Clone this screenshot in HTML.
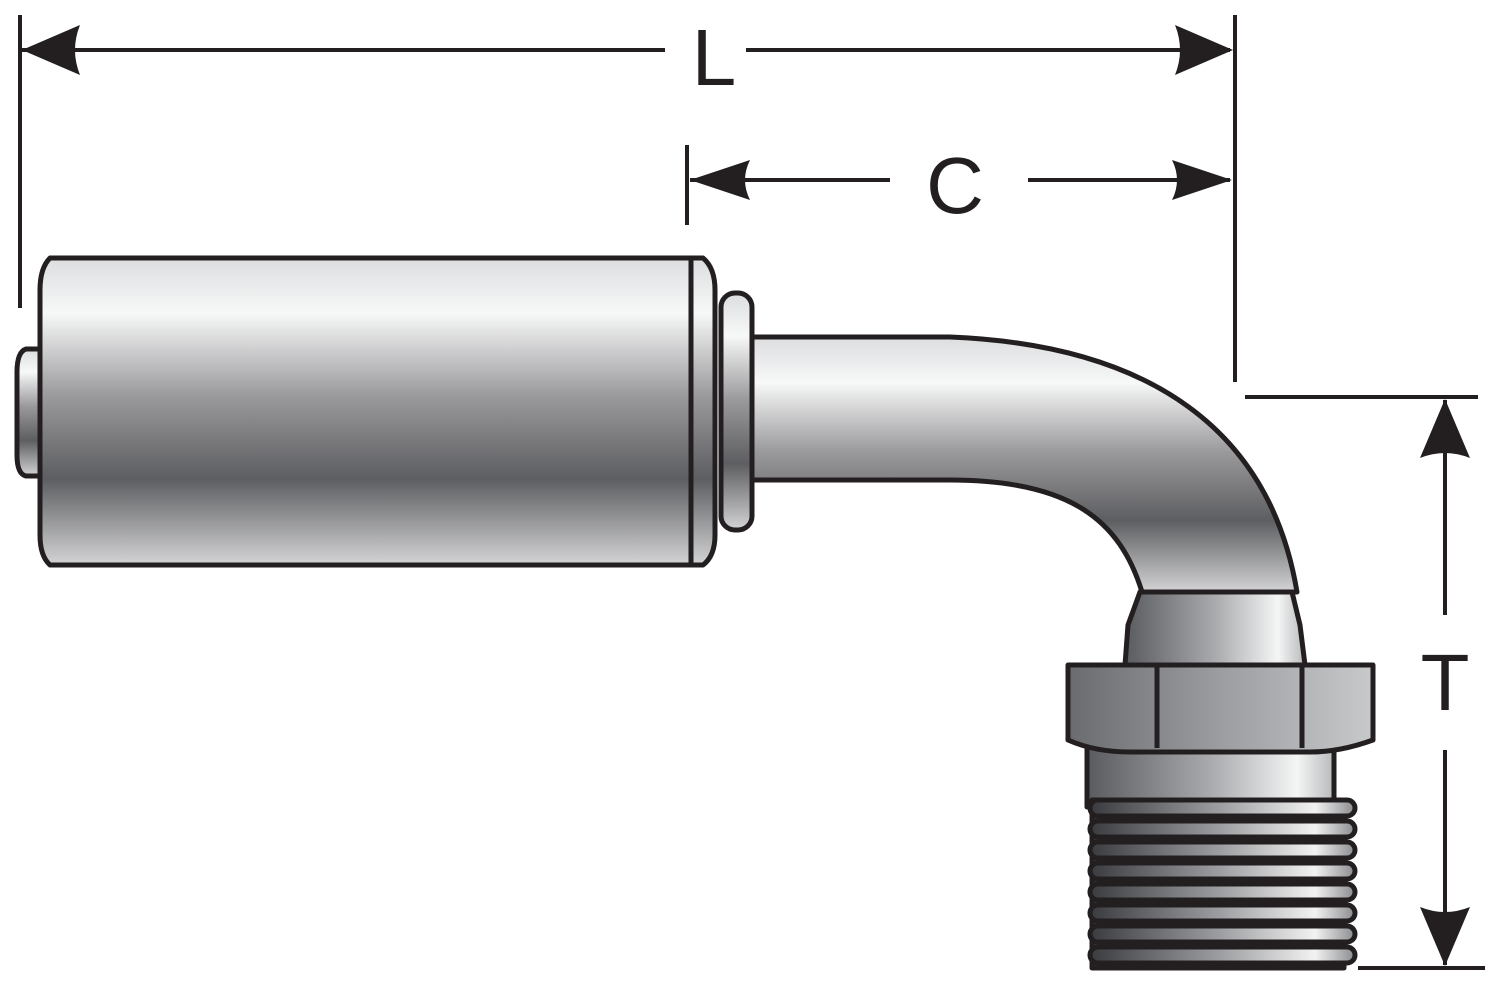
<!DOCTYPE html>
<html><head><style>html,body{margin:0;padding:0;background:#fff}svg{display:block}</style></head>
<body>
<svg width="1500" height="994" viewBox="0 0 1500 994" xmlns="http://www.w3.org/2000/svg">
<defs>
<linearGradient id="gv" x1="0" y1="0" x2="0" y2="1">
<stop offset="0" stop-color="#dcdddf"/><stop offset="0.18" stop-color="#f7f8f8"/><stop offset="0.45" stop-color="#9a999c"/><stop offset="0.72" stop-color="#5d5e61"/><stop offset="1" stop-color="#d4d4d6"/>
</linearGradient>
<linearGradient id="gh" x1="0" y1="0" x2="1" y2="0">
<stop offset="0" stop-color="#5a5b5e"/><stop offset="0.5" stop-color="#a9aaad"/><stop offset="0.85" stop-color="#f4f5f5"/><stop offset="1" stop-color="#b8b9bb"/>
</linearGradient>
<linearGradient id="gt" x1="0" y1="0" x2="1" y2="0">
<stop offset="0" stop-color="#3a3b3e"/><stop offset="0.5" stop-color="#9fa0a3"/><stop offset="0.85" stop-color="#f2f2f2"/><stop offset="1" stop-color="#8a8b8e"/>
</linearGradient>
<linearGradient id="gn" x1="0" y1="0" x2="1" y2="0">
<stop offset="0" stop-color="#6a6b6e"/><stop offset="0.5" stop-color="#9c9da0"/><stop offset="1" stop-color="#c8c9cb"/>
</linearGradient>
</defs>
<g stroke="#231f20" stroke-width="5" stroke-linejoin="round">
<path d="M40 349 H26 Q17 352 17 372 V455 Q17 474 26 476 H40 Z" fill="url(#gv)"/>
<path d="M50 258 H703 Q715 268 715 290 V535 Q715 556 703 565 H50 Q40 556 40 535 V290 Q40 268 50 258 Z" fill="url(#gv)"/>
<line x1="691" y1="260" x2="691" y2="563"/>
<path d="M752 337 H950 C1150 345 1270 430 1297 592 L1142 592 C1120 520 1070 480 950 480 H752 Z" fill="url(#gv)"/>
<rect x="721" y="293" width="31" height="237" rx="14" fill="url(#gv)"/>
<path d="M1140 592 H1292 L1300 625 L1305 665 H1125 L1128 625 Z" fill="url(#gh)"/>
<rect x="1087" y="745" width="247" height="62" fill="url(#gh)"/>
<rect x="1092" y="800" width="252" height="168" fill="url(#gt)"/>
<g fill="url(#gt)" stroke-width="5">
<rect x="1090" y="800" width="265" height="16" rx="8"/>
<rect x="1090" y="821" width="265" height="16" rx="8"/>
<rect x="1090" y="842" width="265" height="16" rx="8"/>
<rect x="1090" y="863" width="265" height="16" rx="8"/>
<rect x="1090" y="884" width="265" height="16" rx="8"/>
<rect x="1090" y="905" width="265" height="16" rx="8"/>
<rect x="1090" y="926" width="265" height="16" rx="8"/>
<rect x="1090" y="947" width="265" height="16" rx="8"/>
</g>
<path d="M1068 665 H1373 V740 Q1340 752 1310 752 H1130 Q1095 752 1068 740 Z" fill="url(#gn)"/>
<line x1="1157" y1="667" x2="1157" y2="748"/>
<line x1="1302" y1="667" x2="1302" y2="748"/>
</g>
<g stroke="#231f20" stroke-width="4" fill="none">
<line x1="20" y1="15" x2="20" y2="308"/>
<line x1="1235" y1="15" x2="1235" y2="382"/>
<line x1="687" y1="145" x2="687" y2="225"/>
<line x1="22" y1="50" x2="665" y2="50"/>
<line x1="746" y1="50" x2="1230" y2="50"/>
<line x1="690" y1="180" x2="890" y2="180"/>
<line x1="1028" y1="180" x2="1230" y2="180"/>
<line x1="1245" y1="397" x2="1478" y2="397"/>
<line x1="1358" y1="968" x2="1485" y2="968"/>
<line x1="1445" y1="400" x2="1445" y2="615"/>
<line x1="1445" y1="750" x2="1445" y2="965"/>
</g>
<g fill="#231f20">
<path d="M22 50 L80 25 Q70 50 80 75 Z"/>
<path d="M1233 50 L1175 25 Q1185 50 1175 75 Z"/>
<path d="M690 180 L750 160 Q740 180 750 200 Z"/>
<path d="M1232 180 L1172 160 Q1182 180 1172 200 Z"/>
<path d="M1445 399 L1420 458 Q1445 448 1470 458 Z"/>
<path d="M1445 966 L1420 907 Q1445 917 1470 907 Z"/>
</g>
<g font-family="Liberation Sans, sans-serif" font-size="80" fill="#231f20" text-anchor="middle">
<text x="714" y="85">L</text>
<text x="955" y="213">C</text>
<text x="1445" y="710">T</text>
</g>
</svg>
</body></html>
